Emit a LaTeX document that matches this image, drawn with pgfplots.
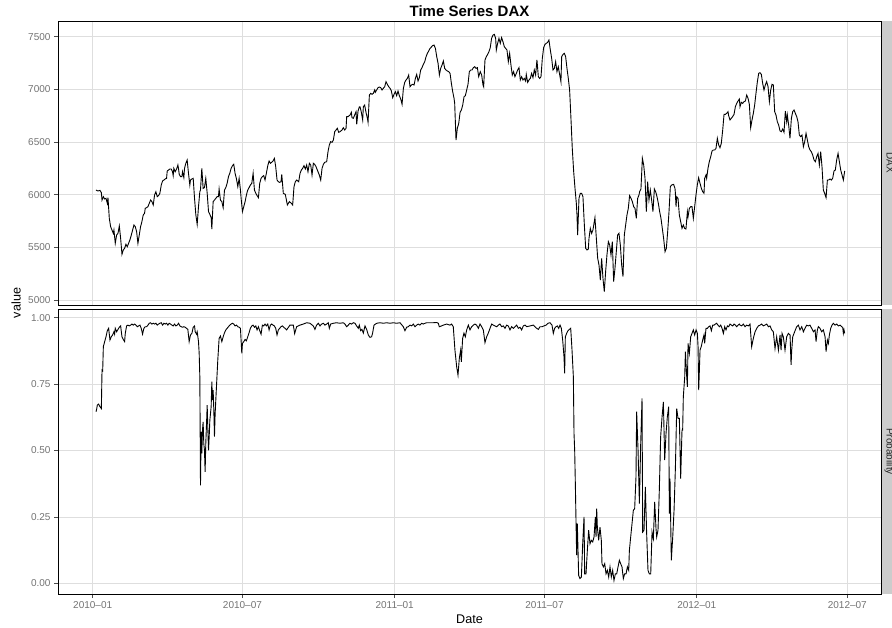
\documentclass[border=0pt]{standalone}
\usepackage{fontspec}
\setmainfont{Liberation Sans}
\usepackage{pgfplots}
\usepackage{pgfplotstable}
\pgfplotsset{compat=1.18}

\definecolor{gridgray}{RGB}{222,222,222}
\definecolor{stripgray}{RGB}{204,204,204}
\definecolor{ticktext}{RGB}{115,115,115}

% x = days since 2010-01-01
\pgfplotstableread{
day dax
4.0 6044
6.4 6035
8.8 6041
10.5 6019
11.3 5949
12.9 5981
14.5 5959
16.1 5965
17.7 5918
18.5 5972
20.1 5775
21.7 5696
23.3 5665
24.9 5633
25.7 5665
27.3 5538
29.0 5617
30.6 5633
32.2 5703
33.8 5585
35.4 5434
37.0 5475
38.6 5491
40.2 5529
41.8 5506
43.4 5538
45.0 5570
46.7 5617
48.3 5665
49.9 5712
51.5 5696
53.1 5649
54.7 5538
56.3 5617
57.9 5696
59.5 5744
61.1 5807
62.7 5823
63.5 5870
65.2 5877
66.8 5886
68.4 5918
70.0 5949
71.6 5934
73.2 5902
74.8 5997
76.4 6028
78.0 5981
79.6 5991
81.2 6013
82.9 6092
84.5 6130
86.1 6139
87.7 6149
89.3 6155
90.1 6225
91.7 6234
93.3 6244
94.9 6244
96.5 6218
97.3 6181
98.1 6250
99.7 6218
101.4 6244
103.0 6282
103.8 6244
104.6 6193
106.2 6171
107.8 6171
108.6 6218
110.2 6162
111.0 6250
112.6 6298
114.2 6329
115.8 6203
117.4 6092
118.2 6139
119.9 6149
121.5 6155
123.1 5965
124.7 5807
126.3 5718
127.9 5886
129.5 6028
130.3 6044
131.9 6250
133.5 6060
135.1 6067
136.7 6155
138.4 6013
140.0 5839
141.6 5813
143.2 5782
144.0 5674
145.6 5934
147.2 5949
148.8 5965
150.4 5981
152.0 5981
152.8 6054
154.4 5949
156.1 5934
157.7 5877
159.3 6044
160.9 6067
162.5 6108
164.1 6171
165.7 6203
167.3 6250
168.9 6275
170.5 6288
172.1 6203
173.8 6149
175.4 6076
177.0 6155
178.6 6044
179.4 5965
181.0 5839
182.6 5886
184.2 5934
185.8 5997
187.4 6044
189.0 6067
190.6 6092
192.3 6108
193.9 6203
195.5 6044
197.1 6013
198.7 5991
200.3 5972
201.9 6108
203.5 6155
205.1 6171
206.7 6181
208.3 6139
209.9 6203
211.6 6275
213.2 6320
214.8 6298
216.4 6307
218.0 6320
219.6 6345
221.2 6266
222.8 6139
224.4 6123
226.0 6117
227.6 6123
228.5 6193
230.4 6013
232.8 6003
235.3 5902
237.7 5934
240.1 5918
241.7 5902
243.3 6076
244.9 6123
246.5 6139
249.0 6123
250.6 6202
252.2 6234
253.8 6250
255.4 6275
257.0 6244
258.6 6282
260.2 6218
261.9 6298
263.5 6282
265.1 6187
266.7 6298
268.3 6288
269.9 6266
271.5 6234
273.9 6187
275.6 6139
277.2 6250
278.8 6288
280.4 6307
282.8 6313
284.4 6408
286.0 6472
287.6 6503
289.3 6497
290.9 6519
292.5 6598
294.1 6614
295.7 6630
297.3 6592
298.9 6598
301.3 6614
302.9 6636
304.6 6614
306.2 6630
307.0 6741
308.6 6741
311.0 6756
312.6 6782
313.4 6731
315.0 6725
316.6 6756
318.3 6788
319.1 6668
320.7 6794
322.3 6835
323.1 6835
324.7 6782
326.3 6709
327.1 6835
328.7 6851
330.3 6782
332.0 6725
332.8 6687
334.4 6946
336.0 6962
337.6 6953
339.2 6962
340.8 6994
341.6 6972
343.2 6994
344.9 7016
346.5 7022
348.1 7016
349.7 6994
351.3 7010
352.9 7025
354.5 7073
356.1 7048
357.7 7025
359.4 7010
361.0 6984
362.6 6921
364.2 6953
365.8 6978
367.4 6940
369.0 6984
370.6 6940
372.3 6908
373.9 6858
375.5 7010
377.1 7066
378.7 7089
380.3 7104
381.9 7136
383.5 7025
385.1 7041
386.8 7048
388.4 7041
390.0 7104
391.6 7142
393.2 7079
394.8 7111
396.4 7184
398.0 7206
399.6 7237
401.3 7263
402.9 7310
404.5 7342
406.1 7364
407.7 7389
409.3 7402
410.9 7415
412.5 7421
414.2 7389
415.8 7310
417.4 7247
419.0 7136
420.6 7199
422.2 7231
423.8 7269
425.4 7199
427.0 7184
428.7 7174
430.3 7168
431.9 7152
433.5 7057
435.1 6978
436.7 6915
437.5 6867
439.1 6519
440.7 6630
442.4 6677
444.0 6782
445.6 6804
447.2 6851
448.8 6930
450.4 6940
452.0 6994
453.6 7048
455.2 7168
456.9 7184
458.5 7184
460.1 7206
461.7 7215
463.3 7199
464.9 7206
466.5 7121
468.4 7168
470.1 7136
471.7 7041
472.5 7025
474.1 7279
475.7 7310
477.3 7332
478.9 7358
480.5 7396
482.1 7484
483.8 7516
485.4 7522
487.0 7484
487.8 7373
489.4 7437
491.0 7484
492.6 7437
494.2 7491
495.8 7453
497.5 7405
499.1 7389
500.7 7373
502.3 7263
503.9 7342
505.5 7231
507.1 7136
508.7 7168
510.3 7120
512.0 7152
513.6 7184
515.2 7206
516.8 7089
518.4 7120
520.0 7089
521.6 7104
523.2 7079
524.0 7142
525.7 7066
527.3 7089
528.9 7104
530.5 7152
532.1 7111
533.7 7184
535.3 7136
536.9 7279
538.6 7120
540.2 7104
541.8 7120
543.4 7294
545.0 7396
546.6 7427
548.2 7437
549.8 7446
551.4 7468
553.1 7373
554.7 7294
556.3 7184
557.9 7199
559.5 7263
561.1 7168
562.7 7215
564.3 7142
565.9 7073
566.8 7310
568.4 7332
570.0 7342
571.6 7310
573.2 7199
574.8 7104
576.4 6994
578.0 6725
579.6 6440
581.3 6218
582.9 6060
584.5 5918
585.3 5807
586.1 5617
587.7 5965
589.3 6013
590.9 6013
592.5 5981
594.2 5712
595.8 5491
597.4 5475
599.0 5484
599.8 5585
601.4 5680
603.0 5633
604.6 5665
606.2 5744
607.0 5782
608.7 5585
610.3 5396
611.9 5332
613.5 5190
615.1 5396
616.7 5206
618.3 5079
619.9 5269
621.5 5427
623.2 5554
624.8 5522
626.4 5427
628.0 5554
629.6 5174
631.2 5301
632.8 5459
634.4 5617
636.0 5633
637.7 5522
639.3 5332
640.9 5222
642.5 5617
644.1 5712
645.7 5807
647.3 5870
648.9 5991
650.6 5965
652.2 5934
653.8 5886
655.4 5870
657.0 5775
658.6 5965
660.2 5997
661.0 6028
662.6 6054
664.3 6345
665.9 6282
667.5 6155
669.1 5839
670.7 6123
672.3 5949
673.9 6044
675.5 5949
677.1 5839
678.8 6054
680.4 6028
682.0 5981
683.6 5918
685.2 5839
686.8 5775
688.4 5680
690.0 5585
691.7 5459
693.3 5491
694.9 5649
696.5 5839
698.1 6076
699.7 6092
702.1 6098
703.7 6060
704.1 6028
705.0 5886
705.8 5981
707.4 5965
709.0 5807
710.6 5744
712.2 5680
713.8 5712
715.4 5680
717.0 5674
718.7 5839
719.5 5791
721.1 5870
722.7 5886
724.3 5886
725.9 5775
727.5 5886
729.1 5997
730.7 6092
732.3 6161
734.0 6108
735.6 6060
737.2 6028
738.8 6013
739.6 6155
741.2 6187
742.0 6155
743.6 6250
745.2 6313
746.9 6361
748.5 6415
750.1 6424
751.7 6424
753.3 6440
754.9 6535
756.5 6472
758.1 6446
759.7 6487
761.4 6614
763.0 6763
764.6 6763
766.2 6772
767.8 6788
768.6 6750
770.2 6709
771.8 6725
773.4 6741
775.1 6763
776.7 6835
778.3 6867
779.9 6889
781.5 6908
782.3 6835
783.9 6877
785.5 6867
787.1 6883
788.8 6889
790.4 6946
792.0 6915
793.6 6858
795.2 6636
796.8 6709
798.4 6772
800.0 6851
801.6 6962
803.3 7073
804.9 7152
806.5 7158
808.1 7142
809.7 7057
811.3 6994
812.9 7041
814.5 7073
816.2 7025
817.8 6883
819.4 6994
821.0 7048
822.6 7041
824.2 6788
825.8 6756
827.4 6693
829.0 6661
830.7 6605
832.3 6598
833.9 6624
835.5 6592
837.1 6794
838.7 6693
839.5 6756
841.1 6661
842.7 6535
844.4 6725
846.0 6788
847.6 6804
849.2 6772
850.8 6741
852.4 6693
854.0 6566
855.6 6551
857.2 6566
858.9 6456
860.5 6503
862.1 6582
863.7 6519
865.3 6456
866.9 6424
868.5 6408
870.1 6377
871.8 6329
873.4 6313
875.0 6361
876.6 6392
878.2 6282
879.8 6408
881.4 6266
883.0 6044
884.6 6013
886.3 5972
887.9 6139
889.5 6139
891.1 6149
892.7 6139
894.3 6155
895.9 6225
897.5 6234
899.1 6329
900.8 6392
902.4 6313
904.0 6234
905.6 6187
907.2 6139
908.8 6225
}\daxtable

\pgfplotstableread{
day prob
4.0 0.646
4.8 0.655
5.6 0.671
7.2 0.675
8.8 0.665
10.5 0.658
11.3 0.803
12.1 0.800
12.9 0.891
14.5 0.910
16.1 0.928
17.7 0.951
19.3 0.960
20.9 0.916
22.5 0.928
24.1 0.935
25.7 0.947
26.5 0.938
27.3 0.960
29.0 0.947
30.6 0.956
32.2 0.964
33.8 0.969
35.4 0.928
37.0 0.918
38.6 0.910
39.4 0.941
41.0 0.969
42.6 0.972
44.2 0.969
45.9 0.972
47.5 0.976
49.1 0.972
50.7 0.976
52.3 0.972
53.9 0.966
55.5 0.969
57.1 0.972
58.7 0.960
60.3 0.938
61.9 0.960
63.5 0.966
65.2 0.966
66.8 0.972
68.4 0.979
70.0 0.981
71.6 0.976
73.2 0.979
74.8 0.976
76.4 0.979
78.0 0.972
79.6 0.976
81.2 0.979
82.9 0.981
84.5 0.972
86.1 0.979
87.7 0.976
89.3 0.979
90.9 0.972
92.5 0.979
94.1 0.976
95.7 0.972
97.3 0.969
98.9 0.976
100.6 0.969
102.2 0.972
103.8 0.979
105.4 0.969
107.0 0.966
108.6 0.964
110.2 0.966
111.8 0.964
113.4 0.960
115.0 0.956
116.6 0.910
118.2 0.935
119.9 0.941
121.5 0.964
123.1 0.969
123.9 0.947
125.5 0.938
126.3 0.947
127.9 0.910
128.7 0.866
129.5 0.778
130.3 0.369
131.1 0.570
131.9 0.489
132.7 0.577
133.5 0.608
134.3 0.526
135.1 0.501
135.9 0.420
136.7 0.526
137.6 0.602
138.4 0.671
139.2 0.577
140.0 0.501
140.8 0.552
141.6 0.614
143.2 0.665
144.0 0.759
144.8 0.690
145.6 0.727
146.4 0.652
147.2 0.552
148.0 0.639
149.6 0.740
151.2 0.840
152.8 0.922
154.4 0.931
156.1 0.910
157.7 0.928
159.3 0.943
160.9 0.954
162.5 0.960
164.1 0.966
165.7 0.972
167.3 0.976
168.9 0.979
170.5 0.976
172.1 0.969
173.8 0.972
175.4 0.966
177.0 0.964
178.6 0.960
180.2 0.866
181.0 0.903
182.6 0.910
184.2 0.918
185.8 0.913
187.4 0.928
189.0 0.943
190.6 0.960
192.3 0.969
193.9 0.972
195.5 0.964
197.1 0.969
198.7 0.954
200.3 0.966
201.9 0.951
203.5 0.938
205.1 0.972
206.7 0.969
208.3 0.976
209.9 0.969
211.6 0.976
213.2 0.954
214.8 0.972
216.4 0.976
218.0 0.972
219.6 0.969
221.2 0.960
222.8 0.935
224.4 0.954
226.0 0.960
227.6 0.966
229.2 0.969
230.8 0.964
232.5 0.960
234.4 0.954
238.4 0.972
242.5 0.972
244.1 0.940
246.5 0.966
250.5 0.972
254.5 0.976
258.6 0.981
262.6 0.979
266.6 0.969
268.6 0.956
270.6 0.972
272.7 0.979
274.7 0.969
276.7 0.976
278.7 0.979
280.7 0.972
282.7 0.976
284.7 0.981
286.0 0.960
287.6 0.976
290.8 0.979
294.8 0.981
298.8 0.979
302.9 0.981
304.9 0.976
306.9 0.966
308.9 0.972
310.9 0.979
312.9 0.976
315.0 0.981
317.0 0.979
319.0 0.969
321.0 0.960
322.2 0.972
323.8 0.951
325.4 0.956
327.1 0.942
329.1 0.969
331.1 0.956
333.1 0.935
335.1 0.926
337.1 0.928
338.3 0.942
340.0 0.972
343.2 0.979
347.2 0.981
351.2 0.979
355.3 0.981
359.3 0.979
363.3 0.981
367.3 0.979
371.4 0.981
375.4 0.966
377.4 0.951
379.4 0.964
381.4 0.966
383.5 0.972
385.5 0.969
387.5 0.976
389.5 0.966
391.5 0.972
393.5 0.976
395.5 0.972
397.6 0.979
399.6 0.976
401.6 0.979
403.6 0.981
407.6 0.981
411.7 0.981
415.7 0.982
417.7 0.979
418.9 0.966
421.7 0.969
423.7 0.972
427.8 0.976
431.8 0.972
433.8 0.976
435.8 0.966
437.8 0.878
439.9 0.815
441.5 0.784
443.1 0.847
444.7 0.878
445.5 0.834
447.1 0.922
448.7 0.942
450.3 0.928
452.0 0.954
454.0 0.972
456.0 0.954
458.0 0.966
460.0 0.972
462.0 0.976
464.0 0.972
466.1 0.960
468.1 0.976
470.1 0.966
472.1 0.954
474.1 0.906
476.1 0.928
478.1 0.942
480.2 0.960
482.2 0.976
484.2 0.972
486.2 0.969
488.2 0.966
490.2 0.972
492.2 0.976
494.3 0.966
496.3 0.969
498.3 0.960
500.3 0.972
502.3 0.969
504.3 0.954
506.3 0.966
508.4 0.960
510.4 0.966
512.4 0.972
514.4 0.960
516.4 0.964
518.4 0.954
520.4 0.969
522.5 0.972
524.5 0.966
528.5 0.969
532.5 0.972
534.5 0.966
536.6 0.960
538.6 0.956
540.6 0.966
543.0 0.966
545.4 0.969
547.9 0.972
550.3 0.979
552.7 0.981
555.1 0.972
556.7 0.941
558.3 0.960
559.9 0.966
561.6 0.969
563.2 0.960
564.8 0.972
566.4 0.960
568.0 0.916
569.6 0.853
570.4 0.790
571.2 0.928
572.8 0.941
574.4 0.951
576.1 0.956
577.7 0.960
579.3 0.878
580.9 0.778
581.7 0.564
582.5 0.501
583.3 0.376
584.1 0.237
584.9 0.106
585.7 0.225
587.3 0.030
588.9 0.018
590.6 0.024
592.2 0.149
593.8 0.250
594.6 0.036
596.2 0.036
597.8 0.124
599.4 0.200
601.0 0.149
602.6 0.162
604.3 0.156
605.9 0.175
607.5 0.250
608.3 0.175
609.1 0.281
609.9 0.212
611.5 0.162
613.1 0.212
614.7 0.162
615.5 0.074
617.2 0.062
618.8 0.074
620.4 0.036
622.0 0.049
623.6 0.024
625.2 0.062
626.8 0.024
628.4 0.049
630.0 0.011
631.7 0.036
633.3 0.036
634.9 0.062
636.5 0.087
638.1 0.074
639.7 0.062
641.3 0.018
642.9 0.036
644.6 0.036
646.2 0.062
647.8 0.049
648.6 0.124
650.2 0.175
651.8 0.225
653.4 0.275
655.0 0.281
656.6 0.401
657.4 0.646
659.1 0.501
660.7 0.300
662.3 0.526
663.9 0.696
664.7 0.193
666.3 0.200
667.9 0.363
669.5 0.187
671.1 0.049
672.7 0.036
674.4 0.036
676.0 0.193
677.6 0.168
679.2 0.307
680.8 0.206
681.6 0.175
683.2 0.200
684.8 0.351
686.4 0.552
688.1 0.627
689.7 0.683
691.3 0.464
692.9 0.564
694.5 0.627
696.1 0.665
696.9 0.263
697.7 0.394
699.3 0.087
701.0 0.175
702.6 0.275
704.2 0.432
705.8 0.658
707.4 0.621
709.0 0.621
710.6 0.394
712.2 0.577
713.0 0.577
713.8 0.702
715.5 0.778
716.3 0.872
717.9 0.778
718.7 0.740
719.5 0.903
721.1 0.866
722.7 0.928
724.3 0.941
725.9 0.954
727.5 0.935
729.2 0.954
730.8 0.941
731.6 0.891
732.4 0.727
734.0 0.878
735.6 0.893
737.2 0.916
738.8 0.935
739.6 0.903
741.2 0.960
742.9 0.960
744.5 0.966
746.1 0.969
747.7 0.951
749.3 0.972
750.9 0.972
752.5 0.976
754.1 0.979
755.7 0.972
757.4 0.966
759.0 0.972
760.6 0.960
762.2 0.941
763.8 0.966
765.4 0.954
767.0 0.969
768.6 0.966
770.3 0.976
771.9 0.972
773.5 0.969
775.1 0.976
776.7 0.972
778.3 0.966
779.9 0.972
781.5 0.976
782.3 0.972
784.3 0.969
786.3 0.976
788.4 0.966
790.4 0.972
792.4 0.969
794.4 0.976
796.4 0.891
798.4 0.922
800.5 0.947
802.5 0.960
804.5 0.969
806.5 0.972
808.5 0.976
810.5 0.969
812.5 0.972
814.6 0.976
816.6 0.966
818.6 0.969
820.6 0.954
822.6 0.947
824.6 0.884
826.6 0.928
828.7 0.878
830.7 0.935
831.9 0.878
833.1 0.941
834.7 0.928
836.7 0.878
838.7 0.928
840.7 0.941
842.8 0.935
844.0 0.822
844.8 0.878
846.0 0.928
847.6 0.941
849.2 0.954
850.8 0.966
852.8 0.972
854.8 0.954
856.9 0.966
858.9 0.947
860.9 0.960
862.9 0.972
864.9 0.969
866.9 0.972
868.9 0.960
871.0 0.947
873.0 0.954
874.2 0.910
875.8 0.954
877.0 0.966
879.0 0.960
881.0 0.947
883.0 0.954
885.1 0.928
886.3 0.872
887.9 0.916
889.1 0.903
890.3 0.935
891.9 0.960
893.5 0.972
895.1 0.979
897.1 0.972
899.2 0.976
901.2 0.969
903.2 0.972
905.2 0.966
906.4 0.964
907.2 0.941
908.0 0.954
908.8 0.941
}\probtable

\pgfplotsset{
  panel/.style={
    scale only axis, width=823pt, anchor=south west,
    xmin=-41.9, xmax=952.7,
    xtick={0,181,365,546,730,912},
    grid=major,
    major grid style={gridgray, line width=0.9pt},
    axis line style={black, line width=0.8pt},
    tick align=outside, tick pos=left, major tick length=4pt,
    tick style={black!70, line width=0.7pt},
    ticklabel style={font=\fontsize{10}{12}\selectfont, text=ticktext},
    /pgf/number format/assume math mode=true,
  },
  series/.style={black, line width=0.9pt, mark=none},
}

\begin{document}
\begin{tikzpicture}
\path[use as bounding box] (0,0) rectangle (892pt,627pt);

% facet strips on the right
\fill[stripgray] (881pt,322pt) rectangle (902pt,606pt);
\fill[stripgray] (881pt,33pt) rectangle (902pt,318pt);
\node[rotate=-90, anchor=base, font=\fontsize{10}{12}\selectfont, text=black!85] at (886.5pt,464pt) {DAX};
\node[rotate=-90, anchor=base, font=\fontsize{10}{12}\selectfont, text=black!85] at (886.5pt,175.5pt) {Probability};

% upper panel: DAX
\begin{axis}[panel, at={(58pt,322pt)}, height=284pt,
    ymin=4952.5, ymax=7649,
    ytick={5000,5500,6000,6500,7000,7500},
    yticklabels={5000,5500,6000,6500,7000,7500},
    xticklabels={}, xtick style={draw=none}]
\addplot[series] table[x=day, y=dax] {\daxtable};
\end{axis}

% lower panel: probability
\begin{axis}[panel, at={(58pt,33pt)}, height=285pt,
    ymin=-0.040, ymax=1.0327,
    ytick={0,0.25,0.5,0.75,1},
    yticklabels={0.00,0.25,0.50,0.75,1.00},
    xticklabels={2010–01,2010–07,2011–01,2011–07,2012–01,2012–07}]
\addplot[series] table[x=day, y=prob] {\probtable};
\end{axis}

\node[anchor=base, font=\bfseries\fontsize{15}{18}\selectfont] at (469.5pt,610pt) {Time Series DAX};
\node[anchor=base, font=\fontsize{12.6}{15}\selectfont] at (469.5pt,4pt) {Date};
\node[rotate=90, anchor=base, font=\fontsize{12.6}{15}\selectfont] at (20.7pt,324pt) {value};
\end{tikzpicture}
\end{document}
